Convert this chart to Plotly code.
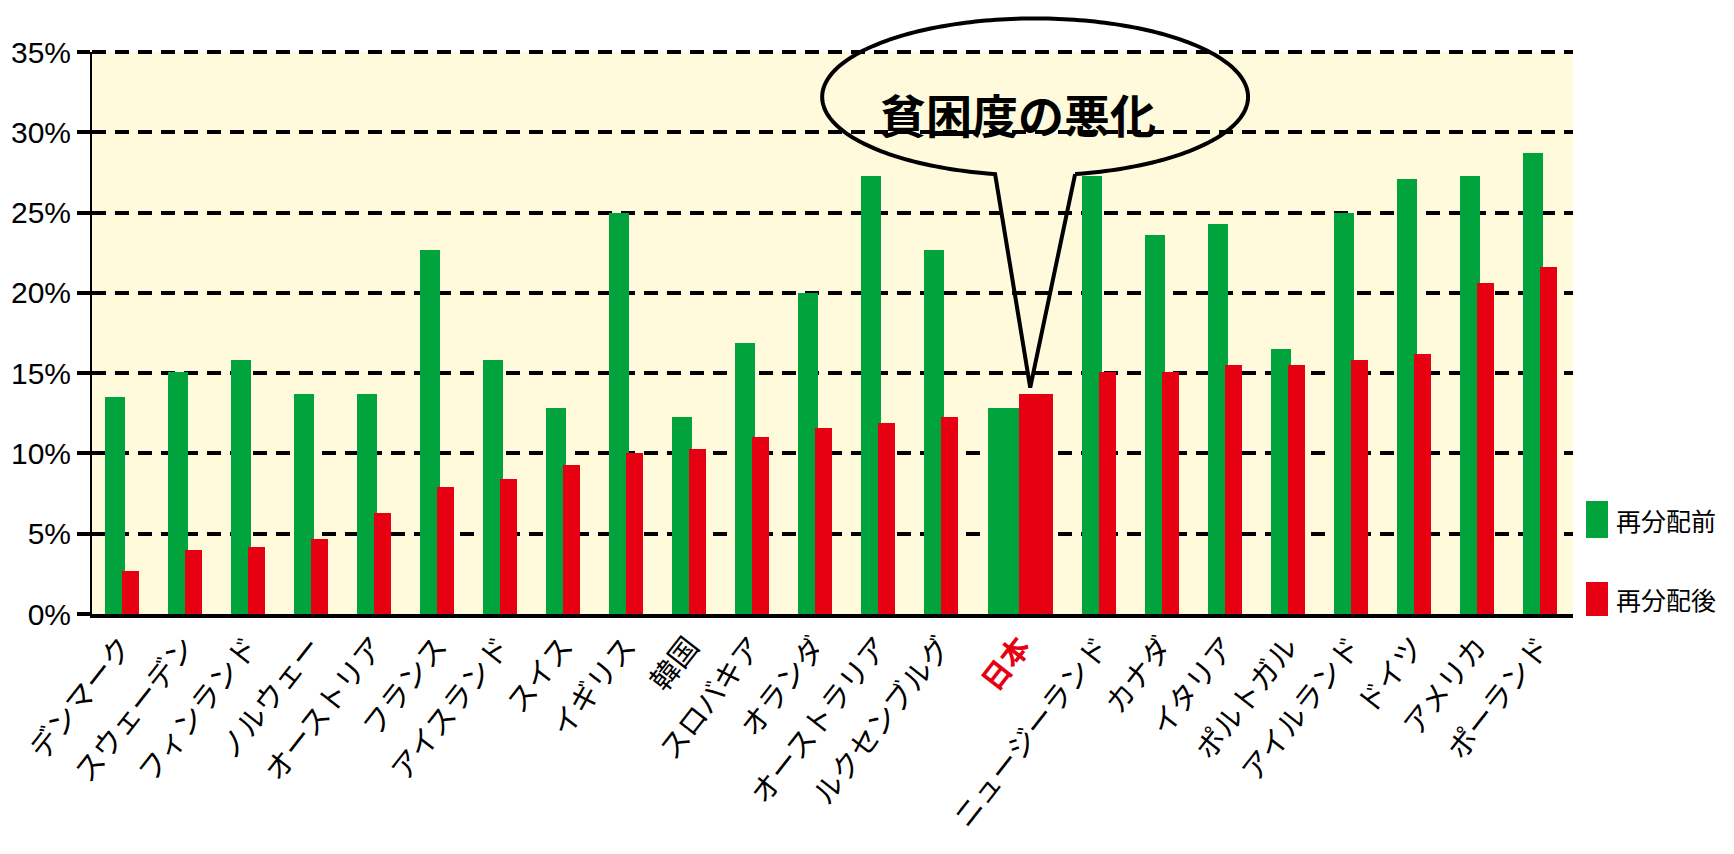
import numpy as np
import plotly.graph_objects as go

# Relative poverty rate before / after taxes and transfers (%)
countries = ["デンマーク", "スウェーデン", "フィンランド", "ノルウェー", "オーストリア",
             "フランス", "アイスランド", "スイス", "イギリス", "韓国", "スロバキア",
             "オランダ", "オーストラリア", "ルクセンブルグ", "日本", "ニュージーランド",
             "カナダ", "イタリア", "ポルトガル", "アイルランド", "ドイツ", "アメリカ",
             "ポーランド"]
before = [13.5, 15.1, 15.8, 13.7, 13.7, 22.7, 15.8, 12.8, 25.0, 12.3, 16.9, 20.0,
          27.3, 22.7, 12.8, 27.3, 23.6, 24.3, 16.5, 25.0, 27.1, 27.3, 28.7]
after = [2.7, 4.0, 4.2, 4.7, 6.3, 7.9, 8.4, 9.3, 10.0, 10.3, 11.0, 11.6,
         11.9, 12.3, 13.7, 15.1, 15.1, 15.5, 15.5, 15.8, 16.2, 20.6, 21.6]
y_ticks = [0, 5, 10, 15, 20, 25, 30, 35]
series_names = ["再分配前", "再分配後"]
highlight = "日本"
callout_text = "貧困度の悪化"

GREEN = "#00A33C"
RED = "#E60012"
BG = "#FFFADC"
GRID_DASH = "14px,9px"

W, H = 1734, 854
M_L, M_R, M_T, M_B = 92, 161, 52, 240
plot_w = W - M_L - M_R
plot_h = H - M_T - M_B
Y_MAX = 35

# slot geometry, in units of one ordinary category slot
n = len(countries)
hi = countries.index(highlight)
slot = np.ones(n)
slot[hi] = 95 / 63
left = np.concatenate([[0], np.cumsum(slot)[:-1]])
x_total = slot.sum()

g_off = np.full(n, 13 / 63); g_w = np.full(n, 20 / 63)
r_off = np.full(n, 30 / 63); r_w = np.full(n, 17 / 63)
g_off[hi], g_w[hi] = 14 / 63, 31 / 63
r_off[hi], r_w[hi] = 45 / 63, 34 / 63
centers = left + (g_off + r_off + r_w) / 2

tick_text = [f'<span style="color:{RED}"><b>{c}</b></span>' if c == highlight else c
             for c in countries]

fig = go.Figure()
fig.add_trace(go.Bar(x=left, y=before, offset=g_off, width=g_w, name=series_names[0],
                     marker=dict(color=GREEN, line=dict(width=0)), showlegend=False))
fig.add_trace(go.Bar(x=left, y=after, offset=r_off, width=r_w, name=series_names[1],
                     marker=dict(color=RED, line=dict(width=0)), showlegend=False))


def px_x(p):
    return (p - M_L) / plot_w


def px_y(p):
    return (H - M_B - p) / plot_h


def dx(v):
    return v / x_total


def dy(v):
    return v / Y_MAX


shapes = []

# top gridline at the upper end of the value axis
shapes.append(dict(type="line", xref="paper", yref="paper", x0=0, x1=1, y0=1, y1=1,
                   line=dict(color="black", width=4, dash=GRID_DASH), layer="below"))

# speech bubble pointing at the highlighted red bar
cx, cy = 14.97, 32.2          # centre (slot units, %)
rx, ry = 3.38, 4.89           # radii (slot units, %)
half_base = 0.635             # half width of the tail opening
tip_x = left[hi] + r_off[hi] + r_w[hi] * 0.33
tip_y = after[hi] + 0.4
t_r = np.arcsin(half_base / rx)
phi = np.linspace(t_r, 2 * np.pi - t_r, 240)
ex = cx + rx * np.sin(phi)
ey = cy - ry * np.cos(phi)
pts = [(dx(a), dy(b)) for a, b in zip(ex, ey)]
pts.append((dx(tip_x), dy(tip_y)))
pts.append(pts[0])
path = "M " + " L ".join(f"{a:.5f},{b:.5f}" for a, b in pts)
shapes.append(dict(type="path", xref="paper", yref="paper", path=path,
                   line=dict(color="black", width=4), fillcolor="rgba(0,0,0,0)",
                   layer="above"))

# legend swatches
shapes.append(dict(type="rect", xref="paper", yref="paper",
                   x0=px_x(1586), x1=px_x(1608), y0=px_y(538), y1=px_y(501),
                   fillcolor=GREEN, line=dict(width=0)))
shapes.append(dict(type="rect", xref="paper", yref="paper",
                   x0=px_x(1586), x1=px_x(1608), y0=px_y(616), y1=px_y(582),
                   fillcolor=RED, line=dict(width=0)))

annotations = [
    dict(xref="paper", yref="paper", x=dx(14.70), y=dy(31.17), text=f"<b>{callout_text}</b>",
         showarrow=False, xanchor="center", yanchor="middle",
         font=dict(family="Noto Sans CJK JP", size=46, color="black")),
    dict(xref="paper", yref="paper", x=px_x(1614), y=px_y(520), text=series_names[0],
         showarrow=False, xanchor="left", yanchor="middle",
         font=dict(family="Noto Sans CJK JP", size=25, color="black")),
    dict(xref="paper", yref="paper", x=px_x(1614), y=px_y(599), text=series_names[1],
         showarrow=False, xanchor="left", yanchor="middle",
         font=dict(family="Noto Sans CJK JP", size=25, color="black")),
]

fig.update_layout(
    width=W, height=H,
    margin=dict(l=M_L, r=M_R, t=M_T, b=M_B, pad=0),
    paper_bgcolor="white", plot_bgcolor=BG,
    barmode="overlay", bargap=0,
    shapes=shapes, annotations=annotations,
    showlegend=False,
    font=dict(family="Noto Sans CJK JP", color="black"),
)
fig.update_xaxes(
    range=[0, x_total], tickmode="array", tickvals=centers, ticktext=tick_text,
    tickangle=-52, ticks="", showgrid=False, zeroline=False,
    showline=True, linecolor="black", linewidth=4,
    tickfont=dict(family="Noto Sans CJK JP", size=29, color="black"),
)
fig.update_yaxes(
    range=[0, Y_MAX], tickmode="array", tickvals=y_ticks,
    ticktext=[f"{v}%" for v in y_ticks],
    ticks="outside", ticklen=13, tickwidth=4, tickcolor="black",
    showgrid=True, gridcolor="black", gridwidth=4, griddash=GRID_DASH,
    zeroline=False, showline=True, linecolor="black", linewidth=2,
    tickfont=dict(family="Liberation Sans", size=30, color="black"),
)

fig.write_html("out.html")
